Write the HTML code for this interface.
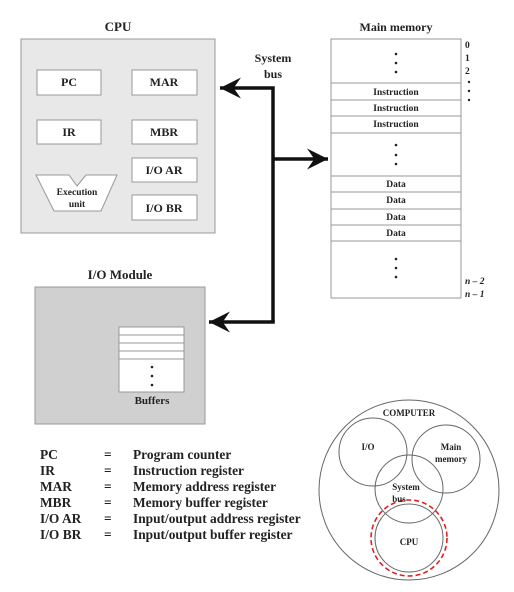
<!DOCTYPE html>
<html><head><meta charset="utf-8"><style>
html,body{margin:0;padding:0;background:#fff}
svg{display:block}
text{font-family:"Liberation Serif",serif;font-weight:bold;fill:#222}
</style></head><body>
<svg width="514" height="592" viewBox="0 0 514 592" xmlns="http://www.w3.org/2000/svg">
<defs>
<marker id="ah" viewBox="0 0 10 10" refX="10" refY="5" markerWidth="7.5" markerHeight="6" markerUnits="strokeWidth" orient="auto">
<path d="M0,0 L10,5 L0,10 L3.5,5 Z" fill="#111"/>
</marker>
</defs>
<text x="118" y="31" font-size="13" text-anchor="middle">CPU</text>
<rect x="21" y="39" width="194" height="194" fill="#e8e8e8" stroke="#999" stroke-width="1"/>
<g fill="#fff" stroke="#999" stroke-width="1">
<rect x="37" y="70" width="64" height="25"/>
<rect x="132" y="70" width="65" height="25"/>
<rect x="37" y="120" width="64" height="24"/>
<rect x="132" y="120" width="65" height="24"/>
<rect x="132" y="158" width="65" height="24"/>
<rect x="132" y="195" width="65" height="25"/>
<path d="M36,175 L69,175 L77,186 L86,175 L117,175 L101,211 L54,211 Z"/>
</g>
<g font-size="12" text-anchor="middle">
<text x="69" y="86">PC</text><text x="164" y="86">MAR</text>
<text x="69" y="136">IR</text><text x="164" y="136">MBR</text>
<text x="164" y="174">I/O AR</text><text x="164" y="212">I/O BR</text>
</g>
<g font-size="9.5" text-anchor="middle"><text x="77" y="195">Execution</text><text x="77" y="207">unit</text></g>
<g stroke="#111" stroke-width="3.5" fill="none">
<path d="M273,322 L273,88 L220,88" marker-end="url(#ah)"/>
<path d="M273,159 L328,159" marker-end="url(#ah)"/>
<path d="M273,320 L273,322 L209,322" marker-end="url(#ah)"/>
</g>
<g font-size="12" text-anchor="middle"><text x="273" y="62">System</text><text x="273" y="78">bus</text></g>
<text x="396" y="31" font-size="12" text-anchor="middle">Main memory</text>
<rect x="331" y="39" width="130" height="259" fill="#fff" stroke="#999"/>
<g stroke="#999"><line x1="331" y1="83" x2="461" y2="83"/><line x1="331" y1="100" x2="461" y2="100"/><line x1="331" y1="116" x2="461" y2="116"/><line x1="331" y1="133" x2="461" y2="133"/><line x1="331" y1="176" x2="461" y2="176"/><line x1="331" y1="192" x2="461" y2="192"/><line x1="331" y1="209" x2="461" y2="209"/><line x1="331" y1="225" x2="461" y2="225"/><line x1="331" y1="241" x2="461" y2="241"/></g>
<g font-size="9.5" text-anchor="middle">
<text x="396" y="95">Instruction</text><text x="396" y="111">Instruction</text><text x="396" y="127">Instruction</text>
<text x="396" y="187">Data</text><text x="396" y="203">Data</text><text x="396" y="220">Data</text><text x="396" y="236">Data</text>
</g>
<g fill="#222">
<circle cx="396" cy="54" r="1.3"/><circle cx="396" cy="63" r="1.3"/><circle cx="396" cy="72" r="1.3"/>
<circle cx="396" cy="145" r="1.3"/><circle cx="396" cy="155" r="1.3"/><circle cx="396" cy="164" r="1.3"/>
<circle cx="396" cy="259" r="1.3"/><circle cx="396" cy="268" r="1.3"/><circle cx="396" cy="277" r="1.3"/>
<circle cx="469" cy="82" r="1.2"/><circle cx="469" cy="91" r="1.2"/><circle cx="469" cy="100" r="1.2"/>
</g>
<g font-size="9.5"><text x="465" y="48">0</text><text x="465" y="61">1</text><text x="465" y="74">2</text>
<text x="465" y="284" font-style="italic">n – 2</text><text x="465" y="297" font-style="italic">n – 1</text></g>
<text x="120" y="279" font-size="13" text-anchor="middle">I/O Module</text>
<rect x="35" y="287" width="170" height="137" fill="#d0d0d0" stroke="#999"/>
<rect x="119" y="327" width="65" height="65" fill="#fff" stroke="#999"/>
<g stroke="#999"><line x1="119" y1="335" x2="184" y2="335"/><line x1="119" y1="343" x2="184" y2="343"/><line x1="119" y1="351" x2="184" y2="351"/><line x1="119" y1="359" x2="184" y2="359"/></g>
<g fill="#222"><circle cx="152" cy="367" r="1.3"/><circle cx="152" cy="376" r="1.3"/><circle cx="152" cy="385" r="1.3"/></g>
<text x="152" y="404" font-size="11" text-anchor="middle">Buffers</text>
<g font-size="13.4">
<text x="40" y="459">PC</text><text x="104" y="459">=</text><text x="133" y="459">Program counter</text>
<text x="40" y="475">IR</text><text x="104" y="475">=</text><text x="133" y="475">Instruction register</text>
<text x="40" y="491">MAR</text><text x="104" y="491">=</text><text x="133" y="491">Memory address register</text>
<text x="40" y="507">MBR</text><text x="104" y="507">=</text><text x="133" y="507">Memory buffer register</text>
<text x="40" y="523">I/O AR</text><text x="104" y="523">=</text><text x="133" y="523">Input/output address register</text>
<text x="40" y="539">I/O BR</text><text x="104" y="539">=</text><text x="133" y="539">Input/output buffer register</text>
</g>
<g fill="none" stroke="#666" stroke-width="1">
<circle cx="409" cy="490" r="90"/>
<circle cx="373" cy="452" r="34"/>
<circle cx="446" cy="459" r="34"/>
<circle cx="409" cy="489" r="34"/>
<circle cx="409" cy="538" r="34"/>
</g>
<circle cx="409" cy="538" r="38" fill="none" stroke="#e02020" stroke-width="1.6" stroke-dasharray="5,3"/>
<g font-size="9" text-anchor="middle">
<text x="409" y="416">COMPUTER</text>
<text x="368" y="450">I/O</text>
<text x="451" y="450">Main</text><text x="451" y="462">memory</text>
<text x="406" y="490">System</text><text x="399" y="502">bus</text>
<text x="409" y="545">CPU</text>
</g>
</svg>
</body></html>
